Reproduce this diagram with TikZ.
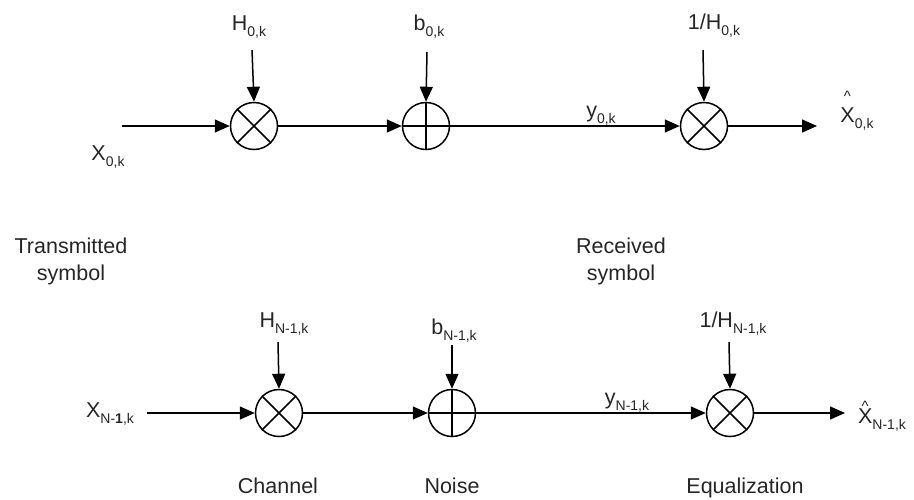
\documentclass[tikz,border=0pt]{standalone}
\usepackage{fontspec}
\setmainfont{Liberation Sans}
\usetikzlibrary{arrows.meta}
\newcommand{\sbs}[1]{\raisebox{-6pt}{\fontsize{14}{14}\selectfont #1}}
\newcommand{\hatX}[2]{\makebox[0pt][l]{\makebox[14pt]{\raisebox{#2}{\fontsize{15}{15}\selectfont\textasciicircum}}}X\sbs{#1}}
\tikzset{
  lbl/.style={font=\fontsize{21.5}{24}\selectfont, text=black!85, inner sep=0pt, anchor=base},
  arr/.style={line width=1.5pt, -{Triangle[length=15pt,width=13pt]}},
  ln/.style={line width=1.5pt},
  op/.style={circle, draw, line width=1.5pt, minimum size=47pt, inner sep=0pt},
}
\begin{document}
\begin{tikzpicture}[x=1pt,y=-1pt]
\useasboundingbox[fill=white] (0,0) rectangle (914,499);

% ---------- top row ----------
\coordinate (in1) at (122,126);
\node[op] (m1) at (254,126) {};
\node[op] (a1) at (426,126) {};
\node[op] (e1) at (704,126) {};
\coordinate (out1) at (817,126);
\draw[ln] (m1.north west) -- (m1.south east) (m1.north east) -- (m1.south west);
\draw[ln] (a1.north) -- (a1.south) (a1.west) -- (a1.east);
\draw[ln] (e1.north west) -- (e1.south east) (e1.north east) -- (e1.south west);

\node[lbl] (h1) at (249,30) {H\sbs{0,k}};
\node[lbl] (b1) at (429,30) {b\sbs{0,k}};
\node[lbl] (q1) at (714,29) {1/H\sbs{0,k}};
\node[lbl] (y1) at (601,117) {y\sbs{0,k}};
\node[lbl] (x1) at (108,160) {X\sbs{0,k}};
\node[lbl] (xh1) at (857,122) {\hatX{0,k}{21pt}};

\coordinate (h1s) at (252,50);
\coordinate (b1s) at (427,52);
\coordinate (q1s) at (703,50);
\draw[arr] (h1s) -- (m1.north);
\draw[arr] (b1s) -- (a1.north);
\draw[arr] (q1s) -- (e1.north);
\draw[arr] (in1) -- (m1.west);
\draw[arr] (m1.east) -- (a1.west);
\draw[arr] (a1.east) -- (e1.west);
\draw[arr] (e1.east) -- (out1);

% ---------- middle labels ----------
\node[lbl] (tr) at (71,253) {Transmitted};
\node[lbl] (trs) at (71,280) {symbol};
\node[lbl] (rc) at (621,253) {Received};
\node[lbl] (rcs) at (621,280) {symbol};

% ---------- bottom row ----------
\coordinate (in2) at (147,413);
\node[op] (m2) at (279,413) {};
\node[op] (a2) at (452,413) {};
\node[op] (e2) at (730,413) {};
\coordinate (out2) at (845,413);
\draw[ln] (m2.north west) -- (m2.south east) (m2.north east) -- (m2.south west);
\draw[ln] (a2.north) -- (a2.south) (a2.west) -- (a2.east);
\draw[ln] (e2.north west) -- (e2.south east) (e2.north east) -- (e2.south west);

\node[lbl] (h2) at (284,327) {H\sbs{N-1,k}};
\node[lbl] (b2) at (454,334) {b\sbs{N-1,k}};
\node[lbl] (q2) at (733,327) {1/H\sbs{N-1,k}};
\node[lbl] (y2) at (627,404) {y\sbs{N-1,k}};
\node[lbl] (x2) at (110,417) {X\sbs{N-\textbf{1},k}};
\node[lbl] (xh2) at (882,423) {\hatX{N-1,k}{12pt}};

\coordinate (h2s) at (278,342);
\coordinate (b2s) at (452,345);
\coordinate (q2s) at (729,342);
\draw[arr] (h2s) -- (m2.north);
\draw[arr] (b2s) -- (a2.north);
\draw[arr] (q2s) -- (e2.north);
\draw[arr] (in2) -- (m2.west);
\draw[arr] (m2.east) -- (a2.west);
\draw[arr] (a2.east) -- (e2.west);
\draw[arr] (e2.east) -- (out2);

\node[lbl] (ch) at (278,493) {Channel};
\node[lbl] (no) at (452,493) {Noise};
\node[lbl] (eq) at (745,493) {Equalization};
\end{tikzpicture}
\end{document}
